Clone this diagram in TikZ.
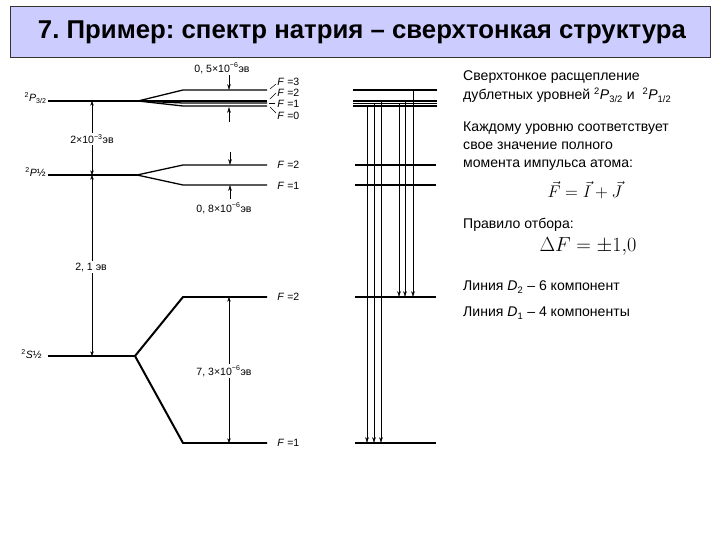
\documentclass[tikz,border=0pt]{standalone}
\usepackage{fontspec}
\setmainfont{Liberation Sans}
\usepackage{amsmath}
\usepackage{xcolor}
\usetikzlibrary{arrows.meta}
\definecolor{titlebg}{RGB}{204,204,255}
\frenchspacing

\begin{document}
\begin{tikzpicture}[x=0.03cm,y=-0.03cm,
  level/.style={line width=1.7pt},
  sublevel/.style={line width=1.1pt},
  ddarrow/.style={thin,{Stealth[length=4pt,width=3pt]}-{Stealth[length=4pt,width=3pt]}},
  trans/.style={thin,-{Stealth[length=5pt,width=3pt]}},
  lab/.style={font=\fontsize{9}{10}\selectfont,inner sep=1pt},
  txt/.style={anchor=base west,font=\fontsize{12}{14}\selectfont,inner sep=0pt}]
\useasboundingbox (0,0) rectangle (720,540);

% title
\filldraw[fill=titlebg,draw=black!80] (10,6) rectangle (710,57);
\node[font=\bfseries\fontsize{22}{25}\selectfont] (title) at (362,32) {7. Пример: спектр натрия – сверхтонкая структура};

% ---- left: level scheme
\node[lab,anchor=east] (p32) at (48,98) {\textsuperscript{2}\textit{P}\textsubscript{3/2}};
\node[lab,anchor=east] (p12) at (47,172) {\textsuperscript{2}\textit{P}½};
\node[lab,anchor=east] (s12) at (43,354) {\textsuperscript{2}\textit{S}½};

\coordinate (pa) at (48,101);
\coordinate (pb) at (48,175);
\coordinate (sa) at (48,356);
\coordinate (pafork) at (138,101);
\coordinate (pbfork) at (137,175);
\coordinate (safork) at (135,356);
\draw[level] (pa) -- (pafork);
\draw[level] (pb) -- (pbfork);
\draw[level] (sa) -- (safork);

% hyperfine levels
\draw[sublevel] (pafork) -- (183,90) -- (267,90);
\draw[sublevel] (pafork) -- (183,101) -- (267,101);
\draw[sublevel] (pafork) -- (183,103) -- (267,103);
\draw[sublevel] (pafork) -- (183,106) -- (267,106);
\draw[sublevel] (pbfork) -- (183,165) -- (267,165);
\draw[sublevel] (pbfork) -- (183,185) -- (267,185);
\draw[level] (safork) -- (183,297) -- (267,297);
\draw[level] (safork) -- (183,443) -- (267,443);

% F labels
\draw (270,89) -- (276,84);
\draw (270,99) -- (276,93);
\draw (269,103) -- (275,103);
\draw (270,107) -- (276,113);
\node[lab,anchor=west] (f3) at (276,82) {\textit{F} =3};
\node[lab,anchor=west] (f2) at (276,93) {\textit{F} =2};
\node[lab,anchor=west] (f1) at (276,104) {\textit{F} =1};
\node[lab,anchor=west] (f0) at (276,116) {\textit{F} =0};
\node[lab,anchor=west] (g2) at (276,165) {\textit{F} =2};
\node[lab,anchor=west] (g1) at (276,186) {\textit{F} =1};
\node[lab,anchor=west] (h2) at (276,297) {\textit{F} =2};
\node[lab,anchor=west] (h1) at (276,443) {\textit{F} =1};

% splittings
\coordinate (v1) at (92,101);
\coordinate (v2) at (92,175);
\coordinate (v3) at (92,356);
\draw[ddarrow] (v1) -- (v2);
\draw[ddarrow] (v2) -- (v3);
\node[lab,fill=white] (e1) at (92,139) {2×10\textsuperscript{−3}эв};
\node[lab,fill=white] (e2) at (91,267) {2, 1 эв};

\node[lab] (e3) at (222,68) {0, 5×10\textsuperscript{−6}эв};
\coordinate (w1) at (229,90);
\coordinate (w2) at (229,107);
\draw[trans] (229,75) -- (w1);
\draw[trans] (229,122) -- (w2);

\coordinate (w3) at (230,165);
\coordinate (w4) at (230,185);
\draw[trans] (230,152) -- (w3);
\draw[trans] (230,199) -- (w4);
\node[lab] (e4) at (224,208) {0, 8×10\textsuperscript{−6}эв};

\coordinate (w5) at (229,297);
\coordinate (w6) at (229,443);
\draw[ddarrow] (w5) -- (w6);
\node[lab,fill=white] (e5) at (224,371) {7, 3×10\textsuperscript{−6}эв};

% ---- middle: transitions
\draw[level] (353,90) -- (437,90);
\draw[sublevel] (353,101) -- (437,101);
\draw[thin] (353,103) -- (437,103);
\draw[level] (353,106) -- (437,106);
\draw[level] (355,165) -- (436,165);
\draw[level] (355,185) -- (436,185);
\draw[level] (355,297) -- (436,297);
\draw[level] (355,443) -- (436,443);
\foreach \x/\ya/\yb [count=\i] in {367/106/443, 374/103/443, 381/101/443, 399/103/297, 405/101/297, 413/90/297} {
  \coordinate (up\i) at (\x,\ya);
  \coordinate (lo\i) at (\x,\yb);
  \draw[trans] (up\i) -- (lo\i);
}

% ---- right: text
\node[txt] (t1) at (463,81) {Сверхтонкое расщепление};
\node[txt] (t2) at (463,100) {дублетных уровней \textsuperscript{2}\textit{P}\textsubscript{3/2} и \ \textsuperscript{2}\textit{P}\textsubscript{1/2}};
\node[txt] (t3) at (463,132) {Каждому уровню соответствует};
\node[txt] (t4) at (463,150) {свое значение полного};
\node[txt] (t5) at (463,168) {момента импульса атома:};
\node[font=\fontsize{15}{17}\selectfont] (t6) at (585,190) {$\vec{F}=\vec{I}+\vec{J}$};
\node[txt] (t7) at (463,229) {Правило отбора:};
\node[font=\fontsize{16}{18}\selectfont] (t8) at (588,247) {$\Delta F=\pm1{,}0$};
\node[txt] (t9) at (463,291) {Линия \textit{D}\textsubscript{2} – 6 компонент};
\node[txt] (t10) at (463,317) {Линия \textit{D}\textsubscript{1} – 4 компоненты};
\end{tikzpicture}
\end{document}
